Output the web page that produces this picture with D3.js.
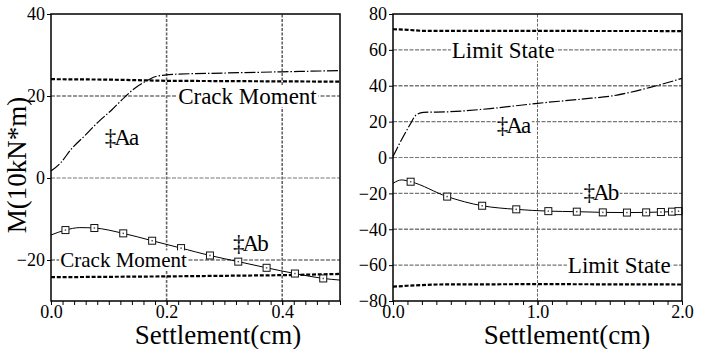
<!DOCTYPE html>
<html lang="en">
  <head>
    <meta charset="utf-8" />
    <title>Settlement vs Moment</title>
    <script src="https://d3js.org/d3.v7.min.js" charset="utf-8"></script>
    <style>
      body { margin: 0; background: #fff; }
    </style>
  </head>
  <body>
    <div id="chart"></div>
    <script type="text/javascript">
      // left panel: settlement 0 - 0.5 cm
      const leftAX = [0, 0.016, 0.036, 0.059, 0.082, 0.105, 0.128, 0.145, 0.163, 0.18, 0.197, 0.215, 0.3, 0.4, 0.5];
      const leftAY = [1.7, 3.6, 7.2, 10.4, 13.7, 16.6, 19.8, 21.9, 23.5, 24.7, 25.1, 25.3, 25.6, 25.9, 26.2];
      const leftBX = [0, 0.025, 0.05, 0.075, 0.125, 0.175, 0.225, 0.275, 0.324, 0.373, 0.422, 0.471, 0.5];
      const leftBY = [-13.9, -12.7, -12.1, -12.2, -13.5, -15.3, -17.1, -18.9, -20.4, -21.9, -23.3, -24.5, -24.9];
      const leftBMark = [0, 1, 0, 1, 1, 1, 1, 1, 1, 1, 1, 1, 0];
      const crackTopX = [0, 0.1, 0.2, 0.5];
      const crackTopY = [24.1, 24.0, 23.7, 23.5];
      const crackBotX = [0, 0.2, 0.4, 0.5];
      const crackBotY = [-24.2, -24.0, -23.7, -23.4];

      // right panel: settlement 0 - 2.0 cm
      const rightAX = [0, 0.046, 0.116, 0.16, 0.21, 0.39, 0.7, 1.0, 1.3, 1.55, 1.78, 2.0];
      const rightAY = [0.5, 7.9, 18.1, 23.7, 25.2, 25.5, 27.5, 30.2, 32.5, 34.8, 39.1, 44.1];
      const rightBX = [0, 0.06, 0.122, 0.375, 0.617, 0.853, 1.075, 1.272, 1.452, 1.619, 1.752, 1.854, 1.931, 1.976, 2.0];
      const rightBY = [-14.4, -12.5, -13.5, -21.8, -26.9, -28.9, -29.9, -30.2, -30.6, -30.7, -30.6, -30.4, -30.2, -29.9, -29.7];
      const rightBMark = [0, 0, 1, 1, 1, 1, 1, 1, 1, 1, 1, 1, 1, 1, 0];
      const limitTopX = [0, 0.1, 0.2, 2.0];
      const limitTopY = [71.5, 71.2, 70.6, 70.5];
      const limitBotX = [0, 0.1, 0.3, 1.0, 2.0];
      const limitBotY = [-72, -71.5, -70.8, -70.6, -70.8];

      const leftXTicks = [0, 0.2, 0.4];
      const leftYTicks = [-20, 0, 20, 40];
      const rightXTicks = [0, 1, 2];
      const rightYTicks = [-80, -60, -40, -20, 0, 20, 40, 60, 80];

      const FONT = "Times New Roman, Times, Liberation Serif, DejaVu Serif, Noto Serif, serif";

      const svg = d3
        .select("#chart")
        .append("svg")
        .attr("width", 704)
        .attr("height", 349)
        .attr("font-family", FONT);

      const zip = (xs, ys) => xs.map((x, i) => [x, ys[i]]);

      function drawPanel(cfg) {
        const x = d3.scaleLinear().domain(cfg.xDomain).range(cfg.xRange);
        const y = d3.scaleLinear().domain(cfg.yDomain).range([301, 14]);
        const g = svg.append("g");
        const line = d3.line().x((d) => x(d[0])).y((d) => y(d[1]));

        //grid
        g.selectAll(".vgrid")
          .data(cfg.vGrid)
          .enter()
          .append("line")
          .attr("x1", (d) => x(d))
          .attr("x2", (d) => x(d))
          .attr("y1", y.range()[0])
          .attr("y2", y.range()[1])
          .attr("stroke", "#666")
          .attr("stroke-width", cfg.vGridW)
          .attr("stroke-dasharray", "3,1.5");
        g.selectAll(".hgrid")
          .data(cfg.hGrid)
          .enter()
          .append("line")
          .attr("x1", x.range()[0])
          .attr("x2", x.range()[1])
          .attr("y1", (d) => y(d))
          .attr("y2", (d) => y(d))
          .attr("stroke", "#777")
          .attr("stroke-width", (d) => (d === 0 ? 1 : 1.4))
          .attr("stroke-dasharray", "4,1.5");

        //reference lines
        cfg.refs.forEach((r) => {
          g.append("path")
            .attr("d", line.curve(d3.curveLinear)(r))
            .attr("fill", "none")
            .attr("stroke", "#000")
            .attr("stroke-width", 2.2)
            .attr("stroke-dasharray", "4,1.8");
        });

        //series a (dash dot)
        g.append("path")
          .attr("d", line.curve(d3.curveMonotoneX)(cfg.a))
          .attr("fill", "none")
          .attr("stroke", "#000")
          .attr("stroke-width", 1.2)
          .attr("stroke-dasharray", "11,2,1.5,2");

        //series b (solid + squares)
        g.append("path")
          .attr("d", line.curve(d3.curveMonotoneX)(cfg.b))
          .attr("fill", "none")
          .attr("stroke", "#000")
          .attr("stroke-width", 1);
        const marks = cfg.b.filter((d, i) => cfg.bMark[i]);
        g.selectAll(".mark")
          .data(marks)
          .enter()
          .append("rect")
          .attr("x", (d) => x(d[0]) - 3.5)
          .attr("y", (d) => y(d[1]) - 3.5)
          .attr("width", 7)
          .attr("height", 7)
          .attr("fill", "#fff")
          .attr("stroke", "#111")
          .attr("stroke-width", 1);
        g.selectAll(".dot")
          .data(marks)
          .enter()
          .append("rect")
          .attr("x", (d) => x(d[0]) - 0.75)
          .attr("y", (d) => y(d[1]) - 0.75)
          .attr("width", 1.5)
          .attr("height", 1.5)
          .attr("fill", "#555");

        //annotations with white boxes
        cfg.notes.forEach((n) => {
          const t = g
            .append("text")
            .attr("x", x(n.x))
            .attr("y", y(n.y))
            .attr("dy", "0.35em")
            .attr("text-anchor", n.anchor)
            .attr("font-family", FONT)
            .attr("font-size", n.size)
            .attr("letter-spacing", n.ls || 0)
            .text(n.text);
          const b = t.node().getBBox();
          g.insert("rect", () => t.node())
            .attr("x", b.x - 1)
            .attr("y", b.y + 2)
            .attr("width", b.width + 2)
            .attr("height", b.height - 4)
            .attr("fill", "#fff");
        });

        //frame
        g.append("rect")
          .attr("x", x.range()[0])
          .attr("y", y.range()[1])
          .attr("width", x.range()[1] - x.range()[0])
          .attr("height", y.range()[0] - y.range()[1])
          .attr("fill", "none")
          .attr("stroke", "#000")
          .attr("stroke-width", 1.5);

        //axes
        const yAxis = g
          .append("g")
          .attr("transform", `translate(${x.range()[0]},0)`)
          .call(d3.axisLeft(y).tickValues(cfg.yTicks).tickSize(4).tickPadding(2).tickFormat(d3.format("d")));
        const xMinor = g
          .append("g")
          .attr("transform", `translate(0,${y.range()[0]})`)
          .call(d3.axisBottom(x).tickValues(cfg.xMinor).tickSize(4).tickFormat(""));
        xMinor.selectAll("text").remove();
        const xAxis = g
          .append("g")
          .attr("transform", `translate(0,${y.range()[0]})`)
          .call(d3.axisBottom(x).tickValues(cfg.xTicks).tickSize(4).tickPadding(0).tickFormat(d3.format(".1f")));
        [yAxis, xMinor, xAxis].forEach((a) => {
          a.select(".domain").remove();
          a.attr("font-family", FONT).attr("font-size", 18);
          a.selectAll("line").attr("stroke", "#000").attr("stroke-width", 1);
          a.selectAll("text").attr("fill", "#000");
        });

        svg.append("text")
          .attr("x", cfg.titleX)
          .attr("y", 344)
          .attr("text-anchor", "middle")
          .attr("font-family", FONT)
          .attr("font-size", 27)
          .text("Settlement(cm)");
      }

      drawPanel({
        xDomain: [0, 0.5],
        xRange: [51, 340],
        yDomain: [-30, 40],
        vGrid: [0.2, 0.4],
        vGridW: 1.6,
        hGrid: [-20, 0, 20],
        refs: [zip(crackTopX, crackTopY), zip(crackBotX, crackBotY)],
        a: zip(leftAX, leftAY),
        b: zip(leftBX, leftBY),
        bMark: leftBMark,
        xTicks: leftXTicks,
        xMinor: d3.range(0, 0.5001, 0.02),
        yTicks: leftYTicks,
        titleX: 218,
        notes: [
          { text: "Crack Moment", x: 0.22, y: 20, anchor: "start", size: 23 },
          { text: "‡Aa", x: 0.121, y: 10, anchor: "middle", size: 23, ls: -2 },
          { text: "‡Ab", x: 0.344, y: -15.9, anchor: "middle", size: 23, ls: -2 },
          { text: "Crack Moment", x: 0.016, y: -20, anchor: "start", size: 21 },
        ],
      });

      drawPanel({
        xDomain: [0, 2],
        xRange: [393, 682],
        yDomain: [-80, 80],
        vGrid: [1],
        vGridW: 1,
        hGrid: [-60, -40, -20, 0, 20, 40, 60],
        refs: [zip(limitTopX, limitTopY), zip(limitBotX, limitBotY)],
        a: zip(rightAX, rightAY),
        b: zip(rightBX, rightBY),
        bMark: rightBMark,
        xTicks: rightXTicks,
        xMinor: d3.range(0, 2.0001, 0.1),
        yTicks: rightYTicks,
        titleX: 567,
        notes: [
          { text: "Limit State", x: 0.407, y: 60, anchor: "start", size: 23 },
          { text: "‡Aa", x: 0.83, y: 18, anchor: "middle", size: 23, ls: -2 },
          { text: "‡Ab", x: 1.435, y: -19.2, anchor: "middle", size: 23, ls: -2 },
          { text: "Limit State", x: 1.21, y: -60, anchor: "start", size: 23 },
        ],
      });

      svg.append("text")
        .attr("transform", "translate(26,165) rotate(-90)")
        .attr("text-anchor", "middle")
        .attr("font-family", FONT)
        .attr("font-size", 27)
        .text("M(10kN*m)");
    </script>
  </body>
</html>
